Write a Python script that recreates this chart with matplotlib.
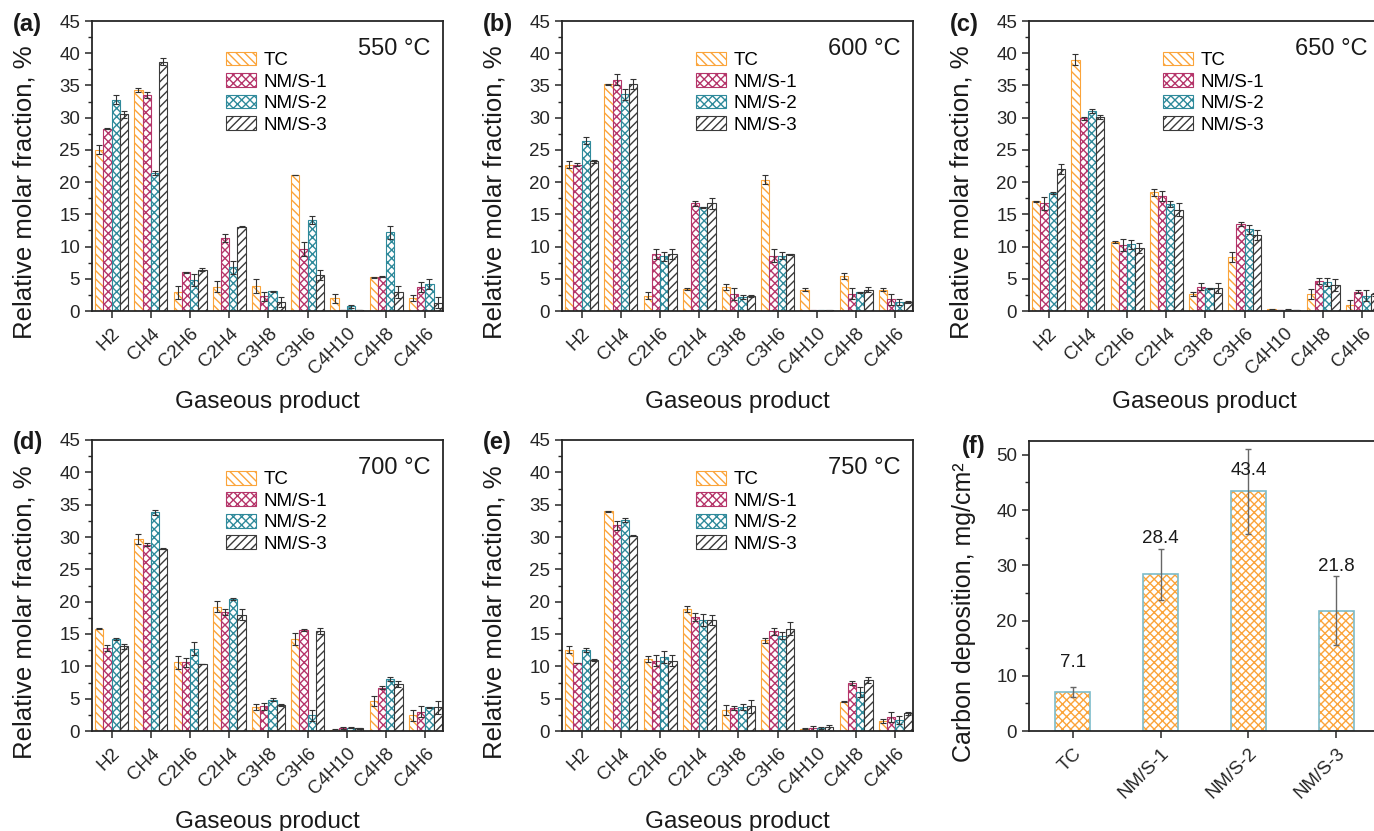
import matplotlib
matplotlib.use("Agg")
import matplotlib.pyplot as plt
from matplotlib.ticker import MultipleLocator
import numpy as np

plt.rcParams['font.family'] = ['Liberation Sans', 'DejaVu Sans']
plt.rcParams['hatch.linewidth'] = 1.0

products = ["H2", "CH4", "C2H6", "C2H4", "C3H8", "C3H6", "C4H10", "C4H8", "C4H6"]
samples = ["TC", "NM/S-1", "NM/S-2", "NM/S-3"]
temperatures = ["550 °C", "600 °C", "650 °C", "700 °C", "750 °C"]

# rows: TC, NM/S-1, NM/S-2, NM/S-3 ; columns follow `products`
frac_550 = [[25.0, 34.3, 2.9, 3.8, 3.9, 21.1, 2.0, 5.2, 2.0],
            [28.3, 33.5, 6.0, 11.3, 2.3, 9.6, 0.15, 5.3, 3.7],
            [32.8, 21.4, 4.8, 6.8, 3.05, 14.1, 0.7, 12.2, 4.2],
            [30.5, 38.7, 6.4, 13.1, 1.4, 5.6, 0.15, 2.95, 1.3]]
err_550 = [[0.7, 0.3, 1.0, 0.8, 1.1, 0.05, 0.7, 0.1, 0.5],
           [0.1, 0.5, 0.1, 0.6, 0.7, 1.1, 0.05, 0.1, 0.8],
           [0.7, 0.3, 0.9, 1.0, 0.1, 0.6, 0.3, 1.0, 0.8],
           [0.6, 0.6, 0.2, 0.1, 0.8, 0.8, 0.05, 0.9, 0.8]]

frac_600 = [[22.7, 35.2, 2.4, 3.4, 3.7, 20.4, 3.3, 5.4, 3.3],
            [22.7, 35.9, 8.8, 16.7, 2.6, 8.6, 0.1, 2.7, 1.8],
            [26.45, 33.6, 8.5, 16.1, 2.2, 8.6, 0.1, 2.9, 1.4],
            [23.2, 35.2, 8.8, 16.7, 2.3, 8.8, 0.1, 3.3, 1.4]]
err_600 = [[0.5, 0.1, 0.5, 0.1, 0.5, 0.7, 0.2, 0.5, 0.2],
           [0.2, 0.9, 0.8, 0.4, 0.9, 1.0, 0.05, 0.8, 0.9],
           [0.6, 0.9, 0.7, 0.1, 0.3, 0.6, 0.05, 0.1, 0.5],
           [0.2, 0.8, 0.8, 0.9, 0.2, 0.1, 0.05, 0.4, 0.1]]

frac_650 = [[17.0, 39.0, 10.7, 18.4, 2.65, 8.4, 0.25, 2.65, 0.9],
            [16.7, 29.9, 10.25, 17.85, 3.8, 13.45, 0.15, 4.65, 3.0],
            [18.3, 31.1, 10.35, 16.6, 3.5, 12.7, 0.2, 4.5, 2.4],
            [22.05, 30.1, 9.8, 15.7, 3.6, 11.8, 0.15, 4.0, 2.6]]
err_650 = [[0.05, 0.9, 0.2, 0.5, 0.3, 0.8, 0.05, 0.8, 0.8],
           [1.0, 0.2, 1.0, 0.8, 0.5, 0.3, 0.05, 0.4, 0.2],
           [0.2, 0.3, 0.7, 0.5, 0.1, 0.7, 0.05, 0.6, 0.8],
           [0.8, 0.3, 0.8, 1.0, 0.8, 0.8, 0.05, 0.9, 0.2]]

frac_700 = [[15.85, 29.65, 10.6, 19.25, 3.7, 14.2, 0.2, 4.6, 2.4],
            [12.85, 28.8, 10.6, 18.4, 3.8, 15.6, 0.5, 6.7, 3.0],
            [14.2, 33.85, 12.7, 20.4, 4.85, 2.4, 0.5, 8.1, 3.65],
            [13.1, 28.2, 10.35, 18.0, 4.05, 15.5, 0.4, 7.25, 3.65]]
err_700 = [[0.05, 0.8, 1.0, 0.8, 0.4, 0.9, 0.05, 0.8, 0.9],
           [0.5, 0.2, 0.7, 0.5, 0.6, 0.1, 0.15, 0.2, 0.8],
           [0.15, 0.4, 1.0, 0.2, 0.2, 0.8, 0.1, 0.3, 0.05],
           [0.4, 0.05, 0.05, 0.9, 0.2, 0.5, 0.05, 0.5, 1.0]]

frac_750 = [[12.6, 33.95, 11.1, 18.85, 3.25, 14.05, 0.35, 4.55, 1.6],
            [10.5, 31.8, 10.9, 17.6, 3.6, 15.4, 0.5, 7.4, 2.2],
            [12.5, 32.6, 11.4, 17.2, 3.7, 14.75, 0.45, 6.0, 1.7],
            [11.0, 30.2, 10.9, 17.2, 3.8, 15.8, 0.55, 7.9, 2.75]]
err_750 = [[0.5, 0.1, 0.5, 0.5, 0.7, 0.4, 0.1, 0.1, 0.3],
           [0.05, 0.7, 0.8, 0.6, 0.3, 0.6, 0.3, 0.3, 0.8],
           [0.3, 0.3, 0.9, 0.9, 0.5, 0.6, 0.1, 0.8, 0.6],
           [0.2, 0.1, 0.9, 0.8, 1.0, 1.0, 0.4, 0.5, 0.2]]

carbon = [7.1, 28.4, 43.4, 21.8]
carbon_err = [0.9, 4.6, 7.7, 6.2]

colors = ["#FBA43A", "#B5356A", "#2F8A9B", "#3A3A3A"]
hatches = ["\\\\\\\\", "xxxx", "xxxx", "////"]

W, H = 1374, 831


def px_axes(left, top, right, bottom):
    return fig.add_axes([left / W, 1 - bottom / H, (right - left) / W, (bottom - top) / H])


def style_axes(ax):
    for s in ax.spines.values():
        s.set_linewidth(1.3)
        s.set_color("#262626")
    ax.tick_params(axis="both", which="major", direction="out", length=5, width=1.1,
                   labelsize=13.5, color="#262626", labelcolor="#262626",
                   top=False, right=False)
    ax.tick_params(axis="x", which="major", pad=5)
    ax.tick_params(axis="y", which="minor", direction="out", length=3, width=1.0,
                   color="#262626", right=False)
    ax.tick_params(axis="x", which="minor", bottom=False, top=False)


def product_panel(ax, frac, err, temp):
    frac = np.array(frac)
    err = np.array(err)
    x = np.arange(len(products))
    w = 0.21
    for i, name in enumerate(samples):
        xs = x + (i - 1.5) * w
        ax.bar(xs, frac[i], w, color="white", edgecolor=colors[i], hatch=hatches[i],
               linewidth=0.8, label=name, zorder=2)
        ax.errorbar(xs, frac[i], yerr=err[i], fmt="none", ecolor="#333333",
                    elinewidth=0.8, capsize=2.2, capthick=0.8, zorder=3)
    ax.set_xlim(-0.5, 8.45)
    ax.set_ylim(0, 45)
    ax.yaxis.set_major_locator(MultipleLocator(5))
    ax.yaxis.set_minor_locator(MultipleLocator(2.5))
    ax.set_xticks(x)
    ax.set_xticklabels(products, rotation=45, ha="right", rotation_mode="anchor")
    style_axes(ax)
    ax.set_ylabel("Relative molar fraction, %", fontsize=18.5, color="#1a1a1a")
    ax.yaxis.set_label_coords(-0.158, 0.41)
    ax.set_xlabel("Gaseous product", fontsize=17.5, color="#1a1a1a")
    ax.xaxis.set_label_coords(0.5, -0.275)
    ax.text(0.963, 0.905, temp, transform=ax.transAxes, ha="right", va="center",
            fontsize=17, color="#1a1a1a")
    ax.legend(loc="upper left", bbox_to_anchor=(0.36, 0.92), frameon=False,
              fontsize=13.5, handlelength=1.6, handleheight=0.75,
              handletextpad=0.4, labelspacing=0.22, borderaxespad=0)


fig = plt.figure(figsize=(W / 100, H / 100), dpi=100)

panels = [
    ((92, 21, 443, 311), frac_550, err_550, temperatures[0], "(a)"),
    ((562, 21, 913, 311), frac_600, err_600, temperatures[1], "(b)"),
    ((1029, 21, 1380, 311), frac_650, err_650, temperatures[2], "(c)"),
    ((92, 440, 443, 731), frac_700, err_700, temperatures[3], "(d)"),
    ((562, 440, 913, 731), frac_750, err_750, temperatures[4], "(e)"),
]

for box, frac, err, temp, tag in panels:
    ax = px_axes(*box)
    product_panel(ax, frac, err, temp)
    fig.text((box[0] - 79) / W, 1 - (box[1] + 3) / H, tag, fontsize=17, fontweight="bold",
             ha="left", va="center", color="#1a1a1a")

# carbon deposition on each sample
axf = px_axes(1029, 441, 1380, 731)
xf = np.arange(len(samples))
axf.bar(xf, carbon, 0.4, color="white", edgecolor="#FBA43A", hatch="xxxx",
        linewidth=0, zorder=2)
axf.bar(xf, carbon, 0.4, fill=False, edgecolor="#7DBCCB", linewidth=1.2, zorder=2.5)
axf.errorbar(xf, carbon, yerr=carbon_err, fmt="none", ecolor="#666666",
             elinewidth=1.0, capsize=2.5, capthick=1.0, zorder=3)
# value labels sit above each bar, offsets in points
label_offsets = [21, 26, 15, 32]
for xi, v, off in zip(xf, carbon, label_offsets):
    axf.annotate(f"{v:.1f}", (xi, v), xytext=(0, off), textcoords="offset points",
                 ha="center", va="center", fontsize=13.5, color="#1a1a1a", zorder=4)
axf.set_xlim(-0.5, 3.5)
axf.set_ylim(0, 52.5)
axf.yaxis.set_major_locator(MultipleLocator(10))
axf.yaxis.set_minor_locator(MultipleLocator(5))
axf.set_xticks(xf)
axf.set_xticklabels(samples, rotation=45, ha="right", rotation_mode="anchor")
style_axes(axf)
axf.set_ylabel("Carbon deposition, mg/cm²", fontsize=18, color="#1a1a1a")
axf.yaxis.set_label_coords(-0.152, 0.41)
fig.text(962 / W, 1 - 447 / H, "(f)", fontsize=17, fontweight="bold",
         ha="left", va="center", color="#1a1a1a")

fig.savefig("out.png", dpi=100)
